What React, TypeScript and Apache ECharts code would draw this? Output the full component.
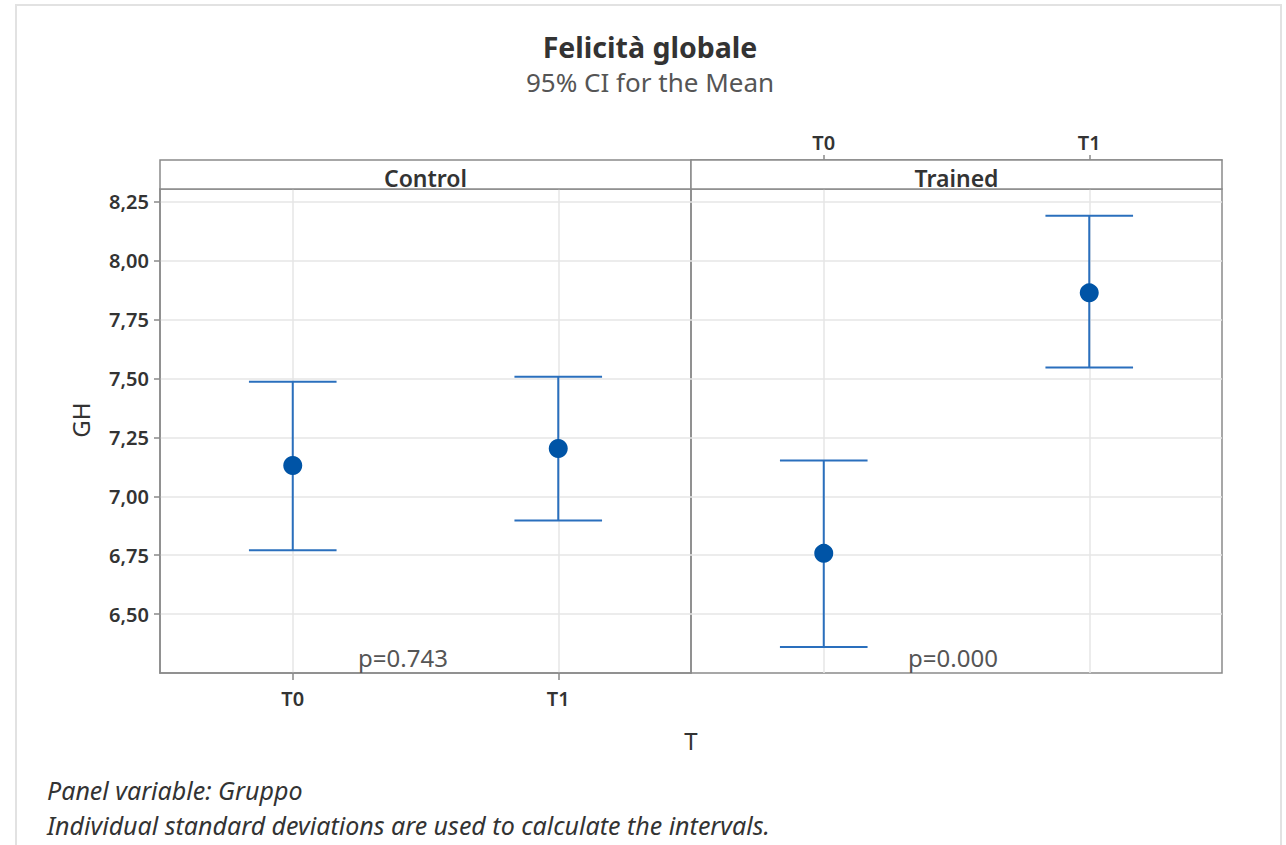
import React, { useEffect, useRef } from "react";
import * as echarts from "echarts";

// ---- data ----
const times = ["T0", "T1"];
const groups = ["Control", "Trained"];
const controlMean = [7.131, 7.203];
const controlLower = [6.771, 6.898];
const controlUpper = [7.487, 7.508];
const trainedMean = [6.758, 7.864];
const trainedLower = [6.36, 7.547];
const trainedUpper = [7.152, 8.191];
const pValues = ["p=0.743", "p=0.000"];
const yTickValues = [6.5, 6.75, 7.0, 7.25, 7.5, 7.75, 8.0, 8.25];
const yMin = 6.25;
const yMax = 8.305;
const yInterval = 0.25;

const FONT = "'Noto Sans', 'Open Sans', sans-serif";
const LINE_BLUE = "#2a6fbd";
const DOT_BLUE = "#0054a6";
const FRAME = "#8a8a8a";
const GRIDC = "#e6e6e6";

const P_LEFT = 160;
const P_W = 531;
const P_TOP = 189;
const P_H = 484;
const STRIP_TOP = 160;

function errorBarSeries(idx: number, lower: number[], upper: number[]) {
  return {
    type: "custom",
    xAxisIndex: idx,
    yAxisIndex: idx,
    encode: { x: 0, y: [1, 2] },
    data: times.map((_, i) => [i, lower[i], upper[i]]),
    z: 3,
    renderItem: (params: any, api: any) => {
      const x = api.value(0);
      const lo = api.value(1);
      const hi = api.value(2);
      const pHi = api.coord([x, hi]);
      const pLo = api.coord([x, lo]);
      const half = api.size([1, 0])[0] * 0.165;
      const st = { stroke: LINE_BLUE, lineWidth: 2 };
      return {
        type: "group",
        children: [
          { type: "line", shape: { x1: pHi[0], y1: pHi[1], x2: pLo[0], y2: pLo[1] }, style: st },
          { type: "line", shape: { x1: pHi[0] - half, y1: pHi[1], x2: pHi[0] + half, y2: pHi[1] }, style: st },
          { type: "line", shape: { x1: pLo[0] - half, y1: pLo[1], x2: pLo[0] + half, y2: pLo[1] }, style: st },
        ],
      };
    },
  };
}

function meanSeries(idx: number, means: number[]) {
  return {
    type: "scatter",
    xAxisIndex: idx,
    yAxisIndex: idx,
    symbol: "circle",
    symbolSize: 19,
    itemStyle: { color: DOT_BLUE, opacity: 1 },
    z: 4,
    data: means.map((v, i) => [i, v]),
  };
}

const tickLabelStyle = {
  fontFamily: FONT,
  fontSize: 20,
  fontWeight: 600,
  color: "#333",
};

export default function App() {
  const ref = useRef<HTMLDivElement>(null);

  useEffect(() => {
    document.body.style.margin = "0";
    if (!ref.current) return;
    const chart = echarts.init(ref.current, undefined, { renderer: "svg" });

    const xAxisBase = (gridIndex: number) => ({
      type: "category",
      gridIndex,
      data: times,
      boundaryGap: true,
      axisLine: { show: true, lineStyle: { color: FRAME, width: 1.5 } },
      splitLine: { show: true, alignWithLabel: true, lineStyle: { color: GRIDC, width: 1.5 } },
    });

    const option: any = {
      animation: false,
      backgroundColor: "#fff",
      textStyle: { fontFamily: FONT },
      grid: [
        { left: P_LEFT, top: P_TOP, width: P_W, height: P_H, show: true, borderColor: FRAME, borderWidth: 1.5 },
        { left: P_LEFT + P_W, top: P_TOP, width: P_W, height: P_H, show: true, borderColor: FRAME, borderWidth: 1.5 },
      ],
      xAxis: [
        {
          ...xAxisBase(0),
          position: "bottom",
          axisTick: { show: true, alignWithLabel: true, length: 7, lineStyle: { color: FRAME, width: 1.5 } },
          axisLabel: { ...tickLabelStyle, margin: 15 },
        },
        {
          ...xAxisBase(1),
          position: "top",
          offset: P_TOP - STRIP_TOP,
          axisTick: { show: true, alignWithLabel: true, length: 5, lineStyle: { color: FRAME, width: 1.5 } },
          axisLabel: { ...tickLabelStyle, margin: 8 },
        },
      ],
      yAxis: [0, 1].map((gi) => ({
        type: "value",
        gridIndex: gi,
        min: yMin,
        max: yMax,
        interval: yInterval,
        axisLine: { show: gi === 0, lineStyle: { color: FRAME, width: 1.5 } },
        axisTick: {
          show: gi === 0,
          length: 6,
          customValues: yTickValues,
          lineStyle: { color: FRAME, width: 1.5 },
        },
        axisLabel: {
          show: gi === 0,
          ...tickLabelStyle,
          margin: 11,
          customValues: yTickValues,
          formatter: (v: number) => v.toFixed(2).replace(".", ","),
        },
        splitLine: { show: true, lineStyle: { color: GRIDC, width: 1.5 } },
      })),
      series: [
        errorBarSeries(0, controlLower, controlUpper),
        meanSeries(0, controlMean),
        errorBarSeries(1, trainedLower, trainedUpper),
        meanSeries(1, trainedMean),
      ],
      graphic: [
        {
          type: "rect",
          shape: { x: 16, y: 5, width: 1265, height: 860 },
          style: { fill: "none", stroke: "#e2e2e2", lineWidth: 2 },
          silent: true,
          z: -10,
        },
        ...groups.map((g, i) => ({
          type: "rect",
          shape: { x: P_LEFT + i * P_W, y: STRIP_TOP, width: P_W, height: P_TOP - STRIP_TOP },
          style: { fill: "#fff", stroke: FRAME, lineWidth: 1.5 },
          z: 5,
        })),
        ...groups.map((g, i) => ({
          type: "text",
          x: P_LEFT + i * P_W + P_W / 2,
          y: (STRIP_TOP + P_TOP) / 2 + 3,
          z: 6,
          style: {
            text: g,
            fontFamily: FONT,
            fontSize: 23,
            fontWeight: 600,
            fill: "#333",
            align: "center",
            verticalAlign: "middle",
          },
        })),
        {
          type: "text",
          x: 650,
          y: 47,
          style: {
            text: "Felicità globale",
            fontFamily: FONT,
            fontSize: 28.5,
            fontWeight: "bold",
            fill: "#333",
            align: "center",
            verticalAlign: "middle",
          },
        },
        {
          type: "text",
          x: 650,
          y: 82,
          style: {
            text: "95% CI for the Mean",
            fontFamily: FONT,
            fontSize: 26,
            fill: "#555",
            align: "center",
            verticalAlign: "middle",
          },
        },
        {
          type: "text",
          x: 80,
          y: 420,
          rotation: Math.PI / 2,
          style: {
            text: "GH",
            fontFamily: FONT,
            fontSize: 24,
            fill: "#333",
            align: "center",
            verticalAlign: "middle",
          },
        },
        {
          type: "text",
          x: 691,
          y: 740,
          style: {
            text: "T",
            fontFamily: FONT,
            fontSize: 24,
            fill: "#333",
            align: "center",
            verticalAlign: "middle",
          },
        },
        ...pValues.map((p, i) => ({
          type: "text",
          x: i === 0 ? 403 : 953,
          y: 657,
          z: 6,
          style: {
            text: p,
            fontFamily: FONT,
            fontSize: 24,
            fill: "#555",
            align: "center",
            verticalAlign: "middle",
          },
        })),
        {
          type: "text",
          x: 47,
          y: 790,
          style: {
            text: "Panel variable: Gruppo",
            fontFamily: FONT,
            fontSize: 25,
            fontStyle: "italic",
            fill: "#333",
            align: "left",
            verticalAlign: "middle",
          },
        },
        {
          type: "text",
          x: 47,
          y: 825,
          style: {
            text: "Individual standard deviations are used to calculate the intervals.",
            fontFamily: FONT,
            fontSize: 25,
            fontStyle: "italic",
            fill: "#333",
            align: "left",
            verticalAlign: "middle",
          },
        },
      ],
    };

    chart.setOption(option);
    return () => chart.dispose();
  }, []);

  return <div ref={ref} style={{ width: 1286, height: 845 }} />;
}
